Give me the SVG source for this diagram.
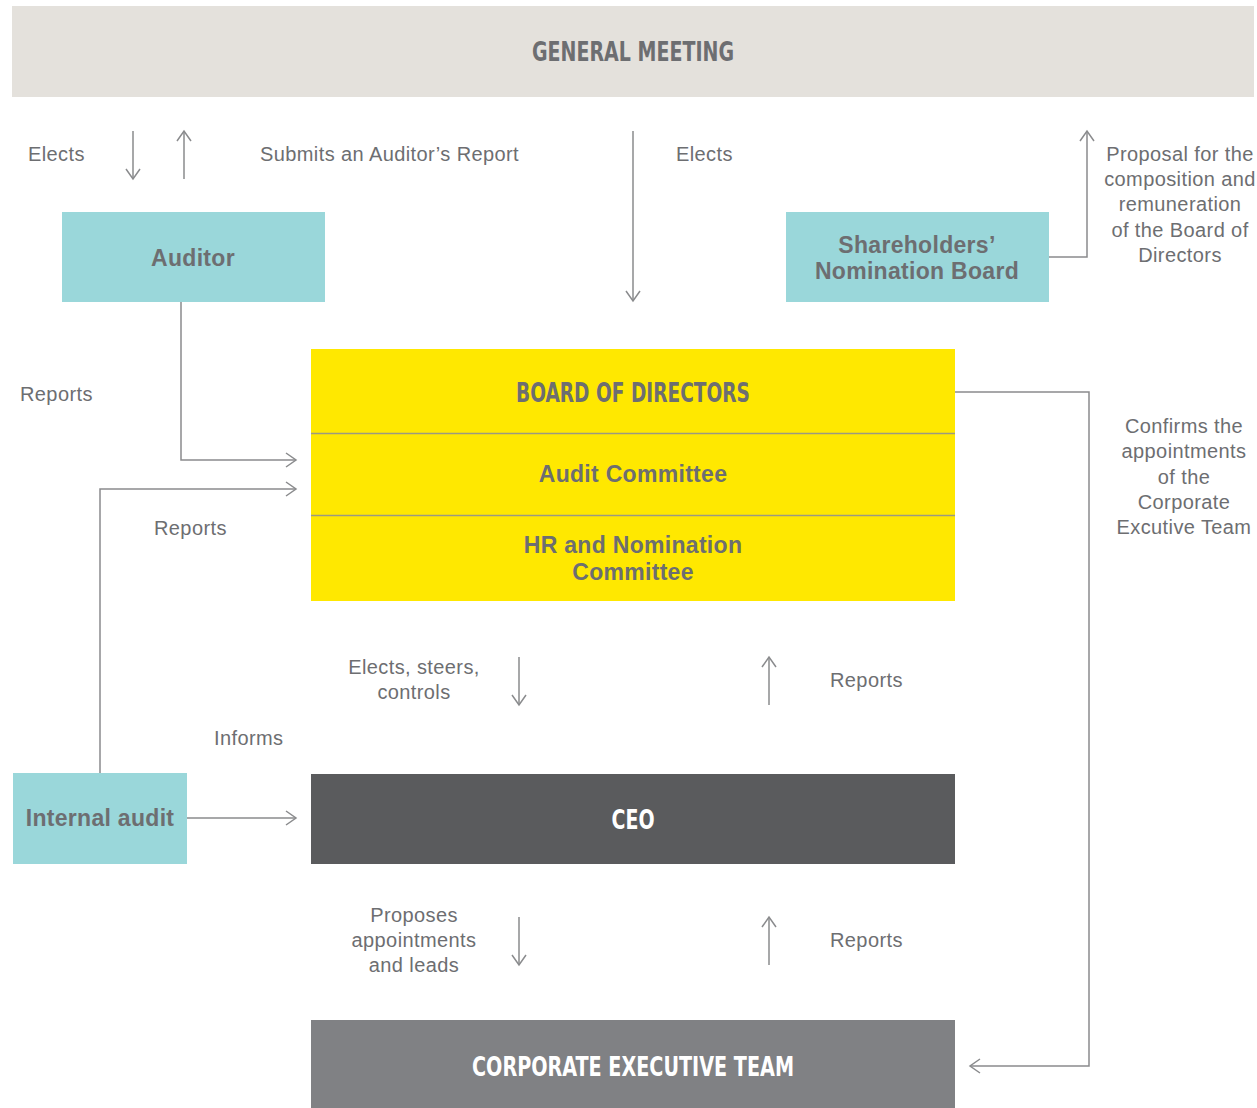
<svg xmlns="http://www.w3.org/2000/svg" width="1257" height="1108" viewBox="0 0 1257 1108">
<defs>
<style>
.lbl{font-family:"Liberation Sans",Arial,sans-serif;font-size:20px;letter-spacing:0.4px;fill:#6d6e71;dominant-baseline:central}
.bold{font-family:"Liberation Sans",Arial,sans-serif;font-size:23px;letter-spacing:0.3px;font-weight:bold;fill:#6d6e71;dominant-baseline:central;text-anchor:middle}
.head{font-family:"Liberation Sans Narrow","DejaVu Sans Condensed","Liberation Sans",sans-serif;font-stretch:condensed;font-size:26px;font-weight:bold;fill:#6d6e71;dominant-baseline:central;text-anchor:middle}
.white{fill:#ffffff}
.ln{fill:none;stroke:#8a8b8d;stroke-width:1.5}
.mid{text-anchor:middle}
</style>
<marker id="ah" viewBox="-12 -8 14 16" markerWidth="14" markerHeight="16" refX="0" refY="0" orient="auto" markerUnits="userSpaceOnUse">
<path d="M-10,-7 L0,0 L-10,7" fill="none" stroke="#8a8b8d" stroke-width="1.5"/>
</marker>
</defs>

<g id="general-meeting">
<rect x="12" y="6" width="1242" height="91" fill="#e4e1dc"/>
<text class="head" x="633" y="52" textLength="202" lengthAdjust="spacingAndGlyphs">GENERAL MEETING</text>
</g>

<g id="auditor">
<rect x="62" y="212" width="263" height="90" fill="#9ad7da"/>
<text class="bold" x="193" y="258">Auditor</text>
</g>

<g id="nomination-board">
<rect x="786" y="212" width="263" height="90" fill="#9ad7da"/>
<text class="bold" x="917" y="245">Shareholders’</text>
<text class="bold" x="917" y="271">Nomination Board</text>
</g>

<g id="board">
<rect x="311" y="349" width="644" height="252" fill="#ffe800"/>
<line x1="311" y1="433.5" x2="955" y2="433.5" stroke="#9c9a80" stroke-width="1.5"/>
<line x1="311" y1="515.5" x2="955" y2="515.5" stroke="#9c9a80" stroke-width="1.5"/>
<text class="head" x="633" y="393" textLength="234" lengthAdjust="spacingAndGlyphs">BOARD OF DIRECTORS</text>
<text class="bold" x="633" y="474">Audit Committee</text>
<text class="bold" x="633" y="545">HR and Nomination</text>
<text class="bold" x="633" y="572">Committee</text>
</g>

<g id="internal-audit">
<rect x="13" y="773" width="174" height="91" fill="#9ad7da"/>
<text class="bold" x="100" y="818">Internal audit</text>
</g>

<g id="ceo">
<rect x="311" y="774" width="644" height="90" fill="#5a5b5d"/>
<text class="head white" x="633" y="820" textLength="43" lengthAdjust="spacingAndGlyphs">CEO</text>
</g>

<g id="cet">
<rect x="311" y="1020" width="644" height="88" fill="#808184"/>
<text class="head white" x="633" y="1067" textLength="322" lengthAdjust="spacingAndGlyphs">CORPORATE EXECUTIVE TEAM</text>
</g>

<g id="connectors">
<line class="ln" x1="133" y1="131" x2="133" y2="179" marker-end="url(#ah)"/>
<line class="ln" x1="184" y1="179" x2="184" y2="131" marker-end="url(#ah)"/>
<line class="ln" x1="633" y1="131" x2="633" y2="301" marker-end="url(#ah)"/>
<polyline class="ln" points="1049,257 1087,257 1087,131" marker-end="url(#ah)"/>
<polyline class="ln" points="181,302 181,460 296,460" marker-end="url(#ah)"/>
<polyline class="ln" points="100,773 100,489 296,489" marker-end="url(#ah)"/>
<polyline class="ln" points="955,392 1089,392 1089,1066 970,1066" marker-end="url(#ah)"/>
<line class="ln" x1="519" y1="657" x2="519" y2="705" marker-end="url(#ah)"/>
<line class="ln" x1="769" y1="705" x2="769" y2="657" marker-end="url(#ah)"/>
<line class="ln" x1="187" y1="818" x2="296" y2="818" marker-end="url(#ah)"/>
<line class="ln" x1="519" y1="917" x2="519" y2="965" marker-end="url(#ah)"/>
<line class="ln" x1="769" y1="965" x2="769" y2="917" marker-end="url(#ah)"/>
</g>

<g id="labels">
<text class="lbl" x="28" y="154">Elects</text>
<text class="lbl" x="260" y="154">Submits an Auditor’s Report</text>
<text class="lbl" x="676" y="154">Elects</text>
<text class="lbl mid" x="1180" y="154">Proposal for the</text>
<text class="lbl mid" x="1180" y="179">composition and</text>
<text class="lbl mid" x="1180" y="204">remuneration</text>
<text class="lbl mid" x="1180" y="230">of the Board of</text>
<text class="lbl mid" x="1180" y="255">Directors</text>
<text class="lbl" x="20" y="394">Reports</text>
<text class="lbl" x="154" y="528">Reports</text>
<text class="lbl mid" x="1184" y="426">Confirms the</text>
<text class="lbl mid" x="1184" y="451">appointments</text>
<text class="lbl mid" x="1184" y="477">of the</text>
<text class="lbl mid" x="1184" y="502">Corporate</text>
<text class="lbl mid" x="1184" y="527">Excutive Team</text>
<text class="lbl mid" x="414" y="667">Elects, steers,</text>
<text class="lbl mid" x="414" y="692">controls</text>
<text class="lbl" x="830" y="680">Reports</text>
<text class="lbl" x="214" y="738">Informs</text>
<text class="lbl mid" x="414" y="915">Proposes</text>
<text class="lbl mid" x="414" y="940">appointments</text>
<text class="lbl mid" x="414" y="965">and leads</text>
<text class="lbl" x="830" y="940">Reports</text>
</g>
</svg>
